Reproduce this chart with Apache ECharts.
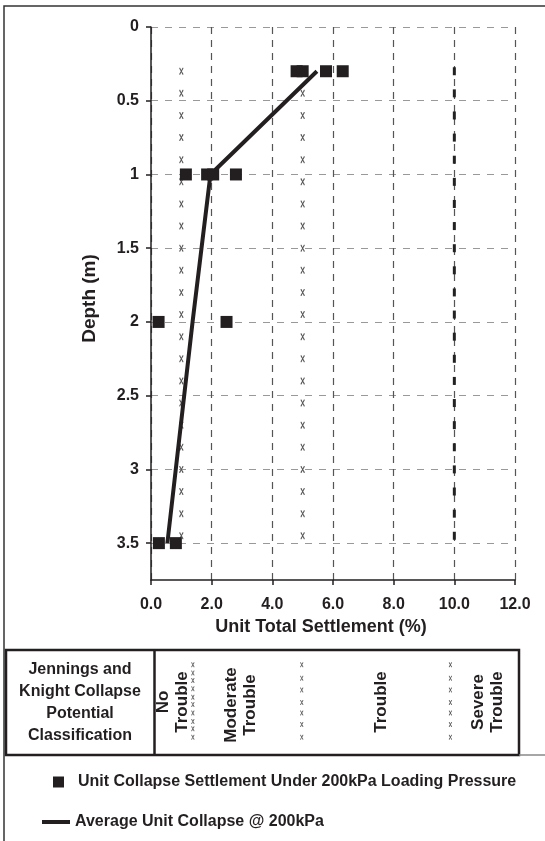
<!DOCTYPE html>
<html>
<head>
<meta charset="utf-8">
<script src="https://cdn.jsdelivr.net/npm/echarts@6/dist/echarts.min.js"></script>
<style>
  html, body { margin: 0; padding: 0; background: #fff; }
  #chart { width: 545px; height: 841px; }
</style>
</head>
<body>
<div id="chart"></div>
<script>
// --- chart values ---
const collapseDepth = [0.3, 0.3, 0.3, 0.3, 1, 1, 1, 1, 2, 2, 3.5, 3.5];
const collapseSettlement = [4.8, 5.0, 5.77, 6.32, 1.15, 1.85, 2.05, 2.8, 0.25, 2.49, 0.26, 0.82];

const avgDepth = [0.3, 1, 2, 3.5];
const avgSettlement = [5.47, 1.96, 1.37, 0.54];

// Jennings & Knight class boundaries (% settlement) and the depths of their markers
const boundaryX = [1, 5];
const severeBoundaryX = 10;
const boundaryDepths = [0.3, 0.45, 0.6, 0.75, 0.9, 1.05, 1.2, 1.35, 1.5, 1.65, 1.8,
  1.95, 2.1, 2.25, 2.4, 2.55, 2.7, 2.85, 3.0, 3.15, 3.3, 3.45];

// boundary markers repeated inside the classification table
const tableMarkerX = [1.38, 4.97, 9.87];
const tableRowsDense = [0.14, 0.22, 0.29, 0.37, 0.45, 0.52, 0.6, 0.68, 0.75, 0.83];
const tableRows = [0.14, 0.27, 0.38, 0.5, 0.6, 0.71, 0.83];

const yTicks = [0, 0.5, 1, 1.5, 2, 2.5, 3, 3.5];

const collapseName = 'Unit Collapse Settlement Under 200kPa Loading Pressure';
const avgName = 'Average Unit Collapse @ 200kPa';

const FONT = '"Liberation Sans", Arial, sans-serif';
const INK = '#231f20';

const chart = echarts.init(document.getElementById('chart'));

const xMark = 'path://M0,0 L2,0 L5,3.6 L8,0 L10,0 L10,1.5 L6.3,5 L10,8.5 L10,10 L8,10 L5,6.4 L2,10 L0,10 L0,8.5 L3.7,5 L0,1.5 Z';

const boundaryData = [];
boundaryX.forEach(x => boundaryDepths.forEach(d => boundaryData.push([x, d])));

const tableData = [];
tableRowsDense.forEach(r => tableData.push([tableMarkerX[0], r]));
tableRows.forEach(r => tableData.push([tableMarkerX[1], r]));
tableRows.forEach(r => tableData.push([tableMarkerX[2], r]));

const boldText = (size) => `bold ${size}px ${FONT}`;

const option = {
  backgroundColor: '#fff',
  animation: false,
  textStyle: { fontFamily: FONT },
  grid: [
    { left: 151, top: 27, right: 30, height: 553 },
    { left: 151, top: 650, right: 30, height: 105 }
  ],
  legend: [
    {
      data: [{ name: collapseName, icon: 'rect' }],
      left: 53, top: 774, padding: 0,
      itemWidth: 11, itemHeight: 11,
      formatter: name => '  ' + name,
      textStyle: { fontFamily: FONT, fontWeight: 'bold', fontSize: 16, color: INK }
    },
    {
      data: [{ name: avgName, icon: 'rect' }],
      left: 42, top: 814, padding: 0,
      itemWidth: 28, itemHeight: 4,
      textStyle: { fontFamily: FONT, fontWeight: 'bold', fontSize: 16, color: INK }
    }
  ],
  xAxis: [
    {
      gridIndex: 0, type: 'value', min: 0, max: 12, interval: 2,
      name: 'Unit Total Settlement (%)', nameLocation: 'middle', nameGap: 35,
      nameTextStyle: { fontFamily: FONT, fontWeight: 'bold', fontSize: 18, color: INK,
        padding: [0, 24, 0, 0] },
      axisLine: { show: true, onZero: false, lineStyle: { color: INK, width: 1.5 } },
      axisTick: { show: true, length: 5, lineStyle: { color: INK, width: 1.5 } },
      axisLabel: {
        margin: 17, fontFamily: FONT, fontWeight: 'bold', fontSize: 16, color: INK,
        formatter: v => v.toFixed(1)
      },
      splitLine: { show: true, lineStyle: { color: '#555', type: [7, 6], width: 1.2 } }
    },
    { gridIndex: 1, type: 'value', min: 0, max: 12, show: false }
  ],
  yAxis: [
    {
      gridIndex: 0, type: 'value', inverse: true, min: 0, max: 3.75, interval: 0.5,
      name: 'Depth (m)', nameLocation: 'middle', nameGap: 52, nameRotate: 90,
      nameTextStyle: { fontFamily: FONT, fontWeight: 'bold', fontSize: 19, color: INK,
        padding: [0, 0, 0, 10] },
      axisLine: { show: true, onZero: false, lineStyle: { color: INK, width: 1.5 } },
      axisTick: { show: true, length: 5, customValues: yTicks, lineStyle: { color: INK, width: 1.5 } },
      axisLabel: {
        margin: 12, fontFamily: FONT, fontWeight: 'bold', fontSize: 16, color: INK,
        customValues: yTicks
      },
      splitLine: { show: true, lineStyle: { color: '#999', type: [7, 7], width: 1 } }
    },
    { gridIndex: 1, type: 'value', inverse: true, min: 0, max: 1, show: false }
  ],
  series: [
    {
      name: 'boundaries',
      type: 'scatter', xAxisIndex: 0, yAxisIndex: 0, silent: true,
      symbol: xMark, symbolSize: [4, 7],
      itemStyle: { color: '#555', opacity: 1 },
      data: boundaryData, z: 2
    },
    {
      name: 'severe boundary',
      type: 'scatter', xAxisIndex: 0, yAxisIndex: 0, silent: true,
      symbol: 'rect', symbolSize: [3, 8],
      itemStyle: { color: '#222', opacity: 1 },
      data: boundaryDepths.map(d => [severeBoundaryX, d]), z: 2
    },
    {
      name: avgName,
      type: 'line', xAxisIndex: 0, yAxisIndex: 0,
      showSymbol: false, symbol: 'none',
      itemStyle: { color: INK },
      lineStyle: { color: INK, width: 4 },
      data: avgDepth.map((d, i) => [avgSettlement[i], d]), z: 3
    },
    {
      name: collapseName,
      type: 'scatter', xAxisIndex: 0, yAxisIndex: 0,
      symbol: 'rect', symbolSize: 12,
      itemStyle: { color: INK, opacity: 1 },
      data: collapseDepth.map((d, i) => [collapseSettlement[i], d]), z: 4
    },
    {
      name: 'table markers',
      type: 'scatter', xAxisIndex: 1, yAxisIndex: 1, silent: true,
      symbol: xMark, symbolSize: [3, 5],
      itemStyle: { color: '#555', opacity: 1 },
      data: tableData, z: 2
    }
  ],
  graphic: [
    // outer frame
    { type: 'rect', z: -1, silent: true, shape: { x: 4, y: 6, width: 600, height: 900 },
      style: { fill: 'none', stroke: '#333', lineWidth: 1.5 } },
    // classification table
    { type: 'rect', silent: true, shape: { x: 6, y: 650, width: 513, height: 105 },
      style: { fill: 'none', stroke: INK, lineWidth: 2.5 } },
    { type: 'line', silent: true, shape: { x1: 154.5, y1: 650, x2: 154.5, y2: 755 },
      style: { stroke: INK, lineWidth: 2.5 } },
    { type: 'line', silent: true, shape: { x1: 519, y1: 755, x2: 545, y2: 755 },
      style: { stroke: '#888', lineWidth: 1.5 } },
    { type: 'text', silent: true, x: 80, y: 703,
      style: { text: 'Jennings and\nKnight Collapse\nPotential\nClassification',
        align: 'center', verticalAlign: 'middle', lineHeight: 22, font: boldText(16), fill: INK } },
    { type: 'text', silent: true, x: 173, y: 702, rotation: Math.PI / 2,
      style: { text: 'No\nTrouble', align: 'center', verticalAlign: 'middle',
        lineHeight: 19, font: boldText(17), fill: INK } },
    { type: 'text', silent: true, x: 240.5, y: 705, rotation: Math.PI / 2,
      style: { text: 'Moderate\nTrouble', align: 'center', verticalAlign: 'middle',
        lineHeight: 19, font: boldText(17), fill: INK } },
    { type: 'text', silent: true, x: 381, y: 702, rotation: Math.PI / 2,
      style: { text: 'Trouble', align: 'center', verticalAlign: 'middle',
        font: boldText(17), fill: INK } },
    { type: 'text', silent: true, x: 487.5, y: 702, rotation: Math.PI / 2,
      style: { text: 'Severe\nTrouble', align: 'center', verticalAlign: 'middle',
        lineHeight: 19, font: boldText(17), fill: INK } }
  ]
};

chart.setOption(option);
</script>
</body>
</html>
